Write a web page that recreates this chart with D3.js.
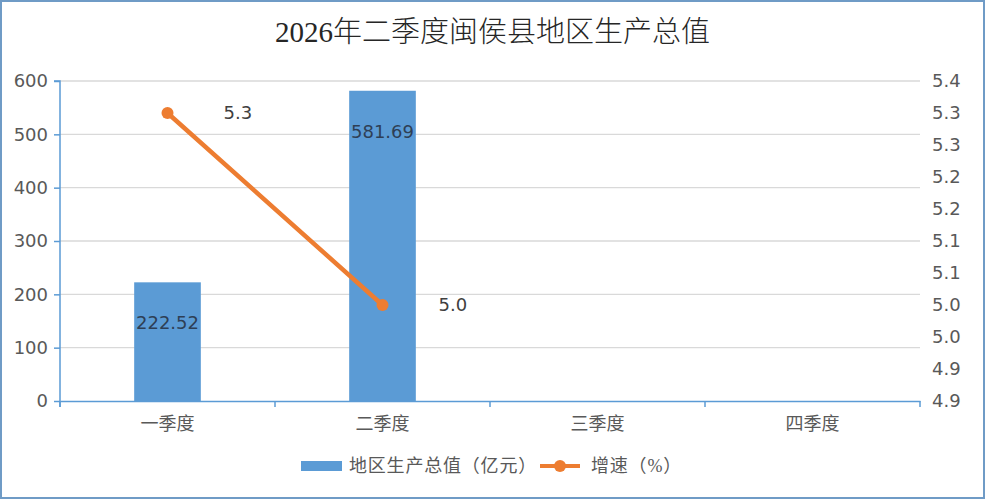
<!DOCTYPE html>
<html>
<head>
<meta charset="utf-8">
<script src="https://cdn.jsdelivr.net/npm/d3@7"></script>
<style>
  html, body { margin: 0; padding: 0; background: #fff; }
  svg { display: block; }
</style>
</head>
<body>
<svg id="chart"></svg>
<script>
const title = "2026年二季度闽侯县地区生产总值";
const quarters = ["一季度", "二季度", "三季度", "四季度"];
const gdp = [222.52, 581.69, null, null];
const growth = [5.3, 5.0, null, null];
const leftTicks = [0, 100, 200, 300, 400, 500, 600];
const rightTicks = [4.85, 4.9, 4.95, 5.0, 5.05, 5.1, 5.15, 5.2, 5.25, 5.3, 5.35];
const rightTickLabels = ["4.9", "4.9", "5.0", "5.0", "5.1", "5.1", "5.2", "5.2", "5.3", "5.3", "5.4"];
const seriesNames = ["地区生产总值（亿元）", "增速（%）"];

const width = 985, height = 499;
const margin = { top: 81, right: 65, bottom: 98, left: 60 };
const blue = "#5b9bd5", orange = "#ed7d31", axisBlue = "#5b9bd5";
const tickColor = "#595959";
const numFont = "'DejaVu Sans', 'Noto Sans CJK SC', sans-serif";
const cjkFont = "'Liberation Serif', 'Noto Sans CJK SC', serif";

const svg = d3.select("#chart").attr("width", width).attr("height", height);

// outer frame
svg.append("rect")
  .attr("x", 1).attr("y", 1)
  .attr("width", width - 2).attr("height", height - 2)
  .attr("fill", "#fff").attr("stroke", "#6f9bc6").attr("stroke-width", 2);

const innerW = width - margin.left - margin.right;
const innerH = height - margin.top - margin.bottom;
const g = svg.append("g").attr("transform", `translate(${margin.left},${margin.top})`);

const x = d3.scaleBand().domain(quarters).range([0, innerW]).padding(0);
const y = d3.scaleLinear().domain([0, 600]).range([innerH, 0]);
const y2 = d3.scaleLinear().domain([4.85, 5.35]).range([innerH, 0]);

// gridlines
g.append("g")
  .selectAll("line")
  .data(leftTicks.filter(d => d > 0))
  .join("line")
  .attr("x1", 0).attr("x2", innerW)
  .attr("y1", d => y(d)).attr("y2", d => y(d))
  .attr("stroke", "#d9d9d9").attr("stroke-width", 1.3);

// left axis
const yAxis = g.append("g")
  .call(d3.axisLeft(y).tickValues(leftTicks).tickSize(6).tickPadding(6).tickFormat(d3.format("d")));
yAxis.select(".domain").attr("stroke", axisBlue).attr("stroke-width", 1.5).attr("d", `M-6,0H0V${innerH + 6}`);
yAxis.selectAll(".tick line").attr("stroke", axisBlue).attr("stroke-width", 1.5);
yAxis.selectAll("text").attr("fill", tickColor).style("font-family", numFont).style("font-size", "18px");

// right axis (labels only)
const y2Axis = g.append("g")
  .attr("transform", `translate(${innerW},0)`)
  .call(d3.axisRight(y2).tickValues(rightTicks).tickSize(0).tickPadding(12)
    .tickFormat((d, i) => rightTickLabels[i]));
y2Axis.select(".domain").remove();
y2Axis.selectAll("text").attr("fill", tickColor).style("font-family", numFont).style("font-size", "18px");

// bottom axis
const xAxis = g.append("g")
  .attr("transform", `translate(0,${innerH})`)
  .call(d3.axisBottom(x).tickSize(0).tickPadding(16));
xAxis.select(".domain").attr("stroke", axisBlue).attr("stroke-width", 1.5);
xAxis.selectAll("text").attr("fill", tickColor).style("font-family", cjkFont).style("font-size", "18px");
g.append("g")
  .selectAll("line")
  .data(d3.range(quarters.length + 1))
  .join("line")
  .attr("x1", i => i * x.step()).attr("x2", i => i * x.step())
  .attr("y1", innerH).attr("y2", innerH + 6)
  .attr("stroke", axisBlue).attr("stroke-width", 1.5);

// bars
const barW = x.bandwidth() * 0.31;
const barData = quarters.map((q, i) => ({ q, v: gdp[i] })).filter(d => d.v != null);
g.append("g")
  .selectAll("rect")
  .data(barData)
  .join("rect")
  .attr("x", d => x(d.q) + (x.bandwidth() - barW) / 2)
  .attr("y", d => y(d.v))
  .attr("width", barW)
  .attr("height", d => innerH - y(d.v))
  .attr("fill", blue);

g.append("g")
  .selectAll("text")
  .data(barData)
  .join("text")
  .attr("x", d => x(d.q) + x.bandwidth() / 2)
  .attr("y", d => y(d.v) + 47)
  .attr("text-anchor", "middle")
  .attr("fill", "#2e3f55")
  .style("font-family", numFont).style("font-size", "18px")
  .text(d => d.v.toFixed(2));

// growth line
const lineData = quarters.map((q, i) => ({ q, v: growth[i] })).filter(d => d.v != null);
const cx = d => x(d.q) + x.bandwidth() / 2;
g.append("path")
  .datum(lineData)
  .attr("fill", "none")
  .attr("stroke", orange).attr("stroke-width", 4.5).attr("stroke-linecap", "round")
  .attr("d", d3.line().x(cx).y(d => y2(d.v)));
g.append("g")
  .selectAll("circle")
  .data(lineData)
  .join("circle")
  .attr("cx", cx).attr("cy", d => y2(d.v)).attr("r", 6)
  .attr("fill", orange);
g.append("g")
  .selectAll("text")
  .data(lineData)
  .join("text")
  .attr("x", d => cx(d) + 56)
  .attr("y", d => y2(d.v) + 6)
  .attr("fill", "#404040")
  .style("font-family", numFont).style("font-size", "18px")
  .text(d => d.v.toFixed(1));

// title
svg.append("text")
  .attr("x", width / 2).attr("y", 42)
  .attr("text-anchor", "middle")
  .attr("fill", "#262626")
  .style("font-family", cjkFont).style("font-size", "29px").style("font-weight", 300)
  .text(title);

// legend
const legend = svg.append("g").attr("transform", "translate(301,466)");
legend.append("rect").attr("x", 0).attr("y", -5).attr("width", 41).attr("height", 10).attr("fill", blue);
legend.append("text").attr("x", 48).attr("y", 6)
  .attr("fill", tickColor).style("font-family", cjkFont).style("font-size", "18px")
  .style("letter-spacing", "0.8px")
  .text(seriesNames[0]);
legend.append("line").attr("x1", 239).attr("x2", 279).attr("y1", 0).attr("y2", 0)
  .attr("stroke", orange).attr("stroke-width", 4);
legend.append("circle").attr("cx", 259).attr("cy", 0).attr("r", 6).attr("fill", orange);
legend.append("text").attr("x", 290).attr("y", 6)
  .attr("fill", tickColor).style("font-family", cjkFont).style("font-size", "18px")
  .style("letter-spacing", "0.8px")
  .text(seriesNames[1]);
</script>
</body>
</html>
